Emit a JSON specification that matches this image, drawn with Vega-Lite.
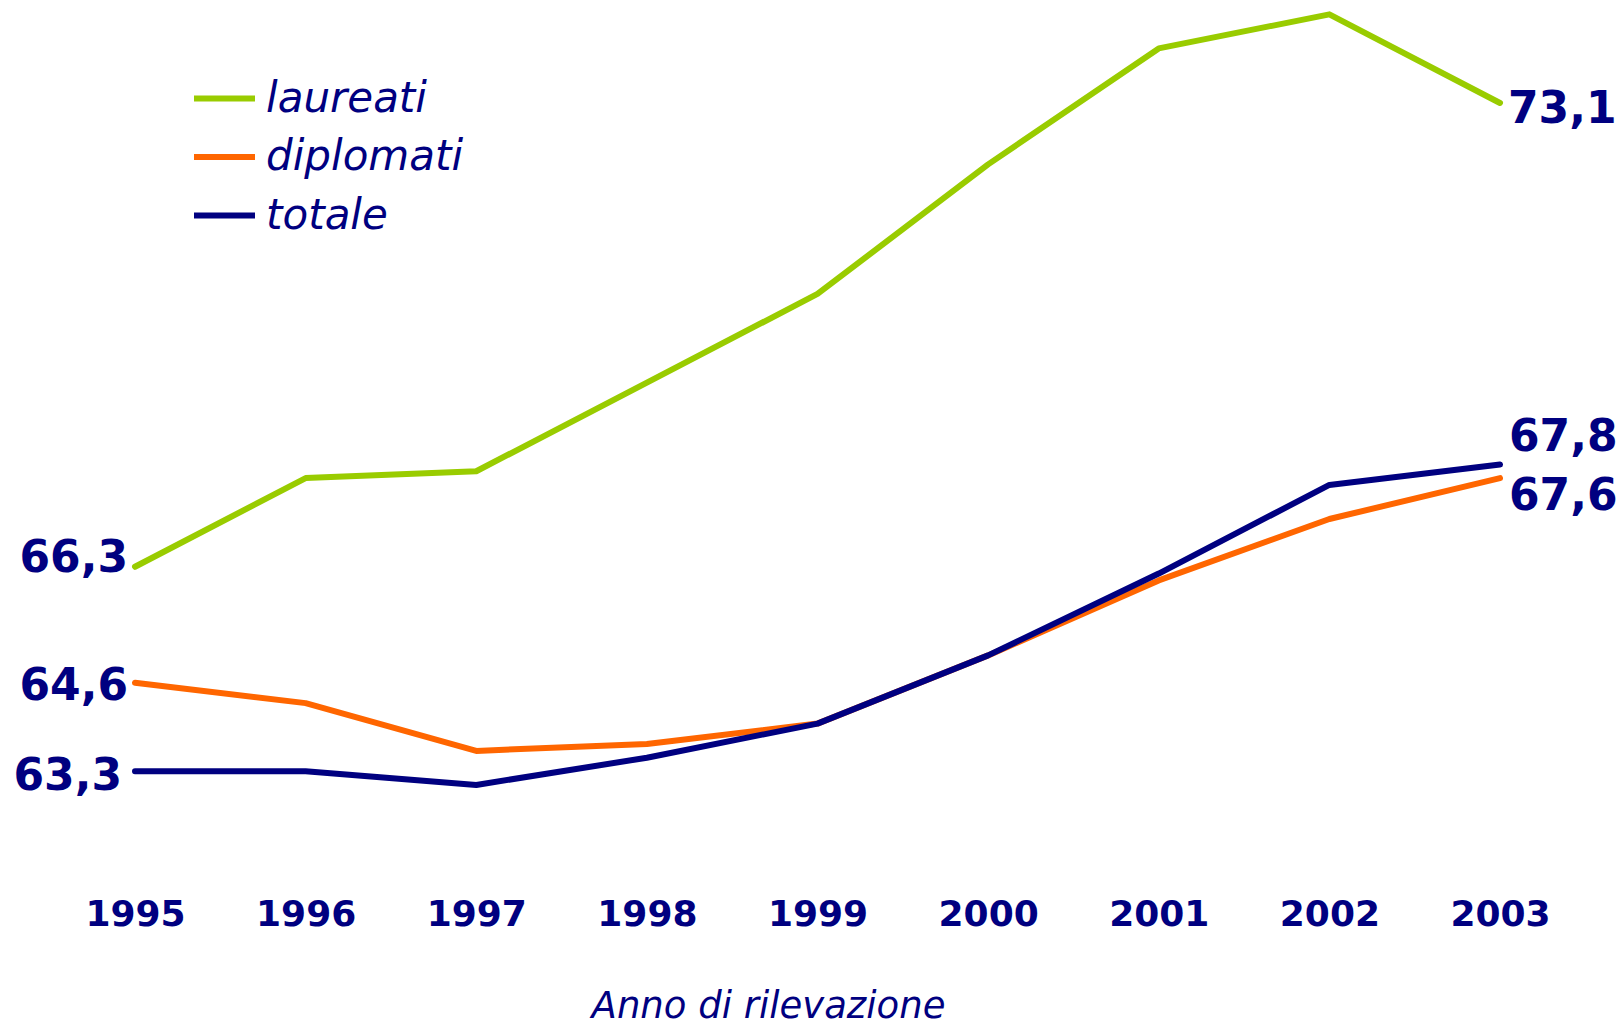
{
  "$schema": "https://vega.github.io/schema/vega-lite/v6.json",
  "width": 1365,
  "height": 860,
  "autosize": {"type": "none"},
  "padding": {"left": 135, "top": 0, "right": 121, "bottom": 163},
  "background": "white",
  "config": {
    "view": {"stroke": null},
    "font": "DejaVu Sans",
    "locale": {"number": {"decimal": ",", "thousands": ".", "grouping": [3], "currency": ["€", ""]}}
  },
  "data": {
    "values": [
      {"anno": 1995, "serie": "laureati", "valore": 66.3},
      {"anno": 1996, "serie": "laureati", "valore": 67.6},
      {"anno": 1997, "serie": "laureati", "valore": 67.7},
      {"anno": 1998, "serie": "laureati", "valore": 69.0},
      {"anno": 1999, "serie": "laureati", "valore": 70.3},
      {"anno": 2000, "serie": "laureati", "valore": 72.2},
      {"anno": 2001, "serie": "laureati", "valore": 73.9},
      {"anno": 2002, "serie": "laureati", "valore": 74.4},
      {"anno": 2003, "serie": "laureati", "valore": 73.1},
      {"anno": 1995, "serie": "diplomati", "valore": 64.6},
      {"anno": 1996, "serie": "diplomati", "valore": 64.3},
      {"anno": 1997, "serie": "diplomati", "valore": 63.6},
      {"anno": 1998, "serie": "diplomati", "valore": 63.7},
      {"anno": 1999, "serie": "diplomati", "valore": 64.0},
      {"anno": 2000, "serie": "diplomati", "valore": 65.0},
      {"anno": 2001, "serie": "diplomati", "valore": 66.1},
      {"anno": 2002, "serie": "diplomati", "valore": 67.0},
      {"anno": 2003, "serie": "diplomati", "valore": 67.6},
      {"anno": 1995, "serie": "totale", "valore": 63.3},
      {"anno": 1996, "serie": "totale", "valore": 63.3},
      {"anno": 1997, "serie": "totale", "valore": 63.1},
      {"anno": 1998, "serie": "totale", "valore": 63.5},
      {"anno": 1999, "serie": "totale", "valore": 64.0},
      {"anno": 2000, "serie": "totale", "valore": 65.0},
      {"anno": 2001, "serie": "totale", "valore": 66.2},
      {"anno": 2002, "serie": "totale", "valore": 67.5},
      {"anno": 2003, "serie": "totale", "valore": 67.8}
    ]
  },
  "encoding": {
    "x": {
      "field": "anno",
      "type": "quantitative",
      "scale": {"domain": [1995, 2003], "nice": false, "zero": false},
      "axis": {
        "values": [1995, 1996, 1997, 1998, 1999, 2000, 2001, 2002, 2003],
        "format": "d",
        "title": "Anno di rilevazione",
        "domain": false,
        "ticks": false,
        "tickSize": 0,
        "grid": false,
        "labelFont": "DejaVu Sans",
        "labelFontWeight": "bold",
        "labelFontSize": 36,
        "labelColor": "#000080",
        "labelBaseline": "alphabetic",
        "labelPadding": 65,
        "labelOverlap": false,
        "labelFlush": false,
        "titleFont": "DejaVu Sans",
        "titleFontStyle": "italic",
        "titleFontWeight": "normal",
        "titleFontSize": 37,
        "titleColor": "#000080",
        "titleBaseline": "alphabetic",
        "titleAlign": "center",
        "titleX": 633,
        "titleY": 157
      }
    },
    "y": {
      "field": "valore",
      "type": "quantitative",
      "scale": {"domain": [62, 74.61], "nice": false, "zero": false},
      "axis": null
    }
  },
  "layer": [
    {
      "mark": {"type": "line", "strokeWidth": 6, "strokeCap": "round", "strokeJoin": "round"},
      "encoding": {
        "color": {
          "field": "serie",
          "type": "nominal",
          "scale": {"domain": ["laureati", "diplomati", "totale"], "range": ["#99CC00", "#FF6600", "#000080"]},
          "legend": {
            "title": null,
            "orient": "none",
            "legendX": 56,
            "legendY": 65,
            "direction": "vertical",
            "symbolType": "stroke",
            "symbolStrokeWidth": 6,
            "symbolSize": 3721,
            "labelFont": "DejaVu Sans",
            "labelFontStyle": "italic",
            "labelFontSize": 42,
            "labelColor": "#000080",
            "labelOffset": 8,
            "labelLimit": 0,
            "rowPadding": 3.5,
            "padding": 0
          }
        }
      }
    },
    {
      "transform": [{"filter": "datum.serie === 'laureati' && datum.anno === 1995"}],
      "mark": {"type": "text", "align": "right", "baseline": "alphabetic", "dx": -7, "dy": 5, "font": "DejaVu Sans", "fontWeight": "bold", "fontSize": 44, "color": "#000080"},
      "encoding": {"text": {"field": "valore", "type": "quantitative", "format": ".1f"}}
    },
    {
      "transform": [{"filter": "datum.serie === 'diplomati' && datum.anno === 1995"}],
      "mark": {"type": "text", "align": "right", "baseline": "alphabetic", "dx": -7, "dy": 17, "font": "DejaVu Sans", "fontWeight": "bold", "fontSize": 44, "color": "#000080"},
      "encoding": {"text": {"field": "valore", "type": "quantitative", "format": ".1f"}}
    },
    {
      "transform": [{"filter": "datum.serie === 'totale' && datum.anno === 1995"}],
      "mark": {"type": "text", "align": "right", "baseline": "alphabetic", "dx": -13, "dy": 19, "font": "DejaVu Sans", "fontWeight": "bold", "fontSize": 44, "color": "#000080"},
      "encoding": {"text": {"field": "valore", "type": "quantitative", "format": ".1f"}}
    },
    {
      "transform": [{"filter": "datum.serie === 'laureati' && datum.anno === 2003"}],
      "mark": {"type": "text", "align": "left", "baseline": "alphabetic", "dx": 8, "dy": 20, "font": "DejaVu Sans", "fontWeight": "bold", "fontSize": 44, "color": "#000080"},
      "encoding": {"text": {"field": "valore", "type": "quantitative", "format": ".1f"}}
    },
    {
      "transform": [{"filter": "datum.serie === 'totale' && datum.anno === 2003"}],
      "mark": {"type": "text", "align": "left", "baseline": "alphabetic", "dx": 9, "dy": -13, "font": "DejaVu Sans", "fontWeight": "bold", "fontSize": 44, "color": "#000080"},
      "encoding": {"text": {"field": "valore", "type": "quantitative", "format": ".1f"}}
    },
    {
      "transform": [{"filter": "datum.serie === 'diplomati' && datum.anno === 2003"}],
      "mark": {"type": "text", "align": "left", "baseline": "alphabetic", "dx": 9, "dy": 32, "font": "DejaVu Sans", "fontWeight": "bold", "fontSize": 44, "color": "#000080"},
      "encoding": {"text": {"field": "valore", "type": "quantitative", "format": ".1f"}}
    }
  ]
}
